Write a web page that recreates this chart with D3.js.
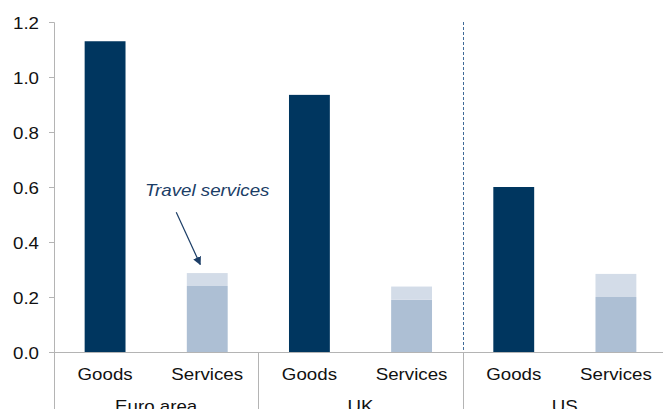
<!DOCTYPE html>
<html><head><meta charset="utf-8">
<script src="https://cdn.jsdelivr.net/npm/d3@7"></script>
<style>
html,body{margin:0;padding:0;background:#fff;}
text{font-family:"Liberation Sans",Arial,sans-serif;}
</style></head>
<body><svg id="c" width="663" height="409"></svg>
<script>
const groups = ["Euro area", "UK", "US"];
const categories = ["Goods", "Services"];
const goods = [1.13, 0.935, 0.60];
const servicesExTravel = [0.24, 0.19, 0.20];
const travel = [0.047, 0.048, 0.084];
const yTicks = [0, 0.2, 0.4, 0.6, 0.8, 1.0, 1.2];

const svg = d3.select("#c");
const x0 = 54, x1 = 667, yBase = 352, yTop = 22;
const sx = 1.17; // horizontal text stretch seen in reference

const slots = [];
groups.forEach(g => categories.forEach(c => slots.push(g + "|" + c)));
const xs = d3.scaleBand().domain(slots).range([x0, x1]).paddingInner(0.6).paddingOuter(0.3);
const xg = d3.scaleBand().domain(groups).range([x0, x1]).padding(0);
const y = d3.scaleLinear().domain([0, 1.2]).range([yBase, yTop]);

function stext(sel, xx, yy, anchor) {
  sel.attr("transform", `translate(${xx},${yy}) scale(${sx},1)`).attr("text-anchor", anchor);
  return sel;
}

// y axis
const ya = svg.append("g").attr("transform", `translate(${x0},0)`)
  .call(d3.axisLeft(y).tickValues(yTicks).tickFormat(d3.format(".1f")).tickSize(5).tickPadding(10));
ya.select(".domain").attr("stroke", "#b4b4b4");
ya.selectAll(".tick line").attr("stroke", "#b4b4b4");
ya.selectAll(".tick text").each(function(d) {
  const t = d3.select(this);
  t.attr("x", null).attr("dy", null);
  stext(t, -15, 6, "end").attr("font-size", "16px").attr("fill", "#111")
    .style("font-family", "'Liberation Sans',Arial,sans-serif");
});

// bars
const gi = d3.range(groups.length);
svg.selectAll("rect.goods").data(gi).enter().append("rect")
  .attr("x", i => xs(groups[i] + "|Goods")).attr("width", xs.bandwidth())
  .attr("y", i => y(goods[i])).attr("height", i => yBase - y(goods[i]))
  .attr("fill", "#00365f");
svg.selectAll("rect.serv").data(gi).enter().append("rect")
  .attr("x", i => xs(groups[i] + "|Services")).attr("width", xs.bandwidth())
  .attr("y", i => y(servicesExTravel[i])).attr("height", i => yBase - y(servicesExTravel[i]))
  .attr("fill", "#adbfd4");
svg.selectAll("rect.trav").data(gi).enter().append("rect")
  .attr("x", i => xs(groups[i] + "|Services")).attr("width", xs.bandwidth())
  .attr("y", i => y(servicesExTravel[i] + travel[i])).attr("height", i => y(servicesExTravel[i]) - y(servicesExTravel[i] + travel[i]))
  .attr("fill", "#d3dce8");

// x baseline
svg.append("line").attr("x1", x0).attr("x2", 663).attr("y1", yBase + 0.5).attr("y2", yBase + 0.5).attr("stroke", "#b4b4b4");
// group separators
groups.forEach((g, i) => {
  const xx = Math.round(xg(g)) + 0.5;
  svg.append("line").attr("x1", xx).attr("x2", xx).attr("y1", yBase).attr("y2", 409).attr("stroke", "#b4b4b4");
});
// dashed divider before US
const xd = Math.round(xg("US")) + 0.5;
svg.append("line").attr("x1", xd).attr("x2", xd).attr("y1", y(1.2)).attr("y2", yBase)
  .attr("stroke", "#3f6a98").attr("stroke-width", 1).attr("stroke-dasharray", "3,2");

// category labels
slots.forEach(s => {
  const c = s.split("|")[1];
  stext(svg.append("text"), xs(s) + xs.bandwidth() / 2, 380, "middle")
    .attr("font-size", "16px").attr("fill", "#111").text(c);
});
groups.forEach(g => {
  stext(svg.append("text"), xg(g) + xg.bandwidth() / 2, 412, "middle")
    .attr("font-size", "16px").attr("fill", "#111").text(g);
});

// annotation
const cx = xs("Euro area|Services") + xs.bandwidth() / 2;
stext(svg.append("text"), cx, 196, "middle")
  .attr("font-size", "16px").attr("font-style", "italic").attr("fill", "#1b3d66").text("Travel services");
const defs = svg.append("defs");
defs.append("marker").attr("id", "ah").attr("viewBox", "0 0 10 10").attr("refX", 9).attr("refY", 5)
  .attr("markerWidth", 7).attr("markerHeight", 7).attr("orient", "auto")
  .append("path").attr("d", "M0,0 L10,5 L0,10 Z").attr("fill", "#1b3d66");
svg.append("line").attr("x1", cx - 31).attr("y1", y(0.508)).attr("x2", cx - 7).attr("y2", y(0.318))
  .attr("stroke", "#1b3d66").attr("stroke-width", 1.2).attr("marker-end", "url(#ah)");
</script></body></html>
